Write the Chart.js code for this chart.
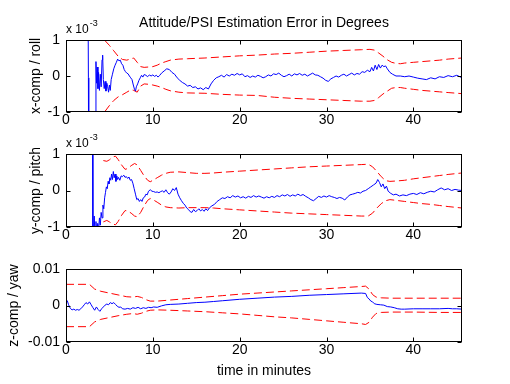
<!DOCTYPE html>
<html>
<head>
<meta charset="utf-8">
<script src="https://cdn.jsdelivr.net/npm/chart.js@4"></script>
<style>
  body { margin: 0; background: #fff; }
  #fig { position: relative; width: 510px; height: 384px; background: #fff; }
  #fig canvas { position: absolute; left: 0; }
</style>
</head>
<body>
<div id="fig">
  <canvas id="roll" width="510" height="130" style="top:0px"></canvas>
  <canvas id="pitch" width="510" height="115" style="top:130px"></canvas>
  <canvas id="yaw" width="510" height="139" style="top:245px"></canvas>
</div>
<script>
// time axis in minutes, roll/pitch in units of 1e-3 degrees, yaw in degrees
const tRoll = [
  2.50,2.58,2.62,3.40,3.45,3.52,3.60,3.68,3.75,3.85,
  3.95,4.05,4.15,4.22,4.30,4.40,4.50,4.60,4.70,4.80,
  4.90,5.00,5.10,5.20,5.35,5.50,5.65,5.80,5.95,6.10,
  6.25,6.40,6.55,6.70,6.85,7.00,7.15,7.30,7.45,7.60,
  7.75,7.90,8.00,8.10,8.25,8.40,8.55,8.70,8.85,9.00,
  9.20,9.40,9.60,9.80,10.0,10.2,10.4,10.6,10.8,11.0,
  11.3,11.6,11.9,12.2,12.5,12.8,13.1,13.4,13.7,14.0,
  14.3,14.6,14.9,15.2,15.5,15.8,16.1,16.4,16.7,17.0,
  17.3,17.6,17.9,18.2,18.5,18.8,19.1,19.4,19.7,20.0,
  20.3,20.6,20.9,21.2,21.5,21.8,22.1,22.4,22.7,23.0,
  23.3,23.6,23.9,24.2,24.5,24.8,25.1,25.4,25.7,26.0,
  26.3,26.6,26.9,27.2,27.5,27.8,28.1,28.4,28.7,29.0,
  29.3,29.6,29.9,30.2,30.5,30.8,31.1,31.4,31.7,32.0,
  32.3,32.6,32.9,33.2,33.5,33.8,34.1,34.4,34.7,35.0,
  35.2,35.4,35.6,35.8,36.0,36.2,36.4,36.6,36.8,37.0,
  37.3,37.6,38.0,38.5,39.0,39.5,40.0,40.5,41.0,41.5,
  42.0,42.5,43.0,43.5,44.0,44.5,45.0,45.6
];
const roll = [
  4.0,-0.05,-4.0,-4.0,0.40,-0.20,0.25,-0.35,0.10,-0.40,
  0.05,-0.30,0.45,0.58,-0.10,-0.35,-0.15,-0.42,-0.20,-0.30,
  -0.45,-0.25,-0.40,-0.10,0.05,0.20,0.30,0.38,0.47,0.42,
  0.44,0.34,0.30,0.18,0.12,0.08,0.06,0.00,-0.05,-0.10,
  -0.25,-0.38,-0.42,-0.30,-0.22,-0.12,-0.05,0.02,-0.03,0.04,
  0.02,-0.02,0.03,0.00,0.03,-0.01,0.02,-0.03,0.02,0.08,
  0.14,0.20,0.18,0.10,0.05,-0.05,-0.12,-0.18,-0.22,-0.28,
  -0.26,-0.32,-0.30,-0.36,-0.33,-0.38,-0.32,-0.36,-0.22,-0.12,
  -0.05,-0.02,0.02,-0.03,0.04,0.00,0.05,0.02,0.07,0.03,
  0.06,-0.02,0.01,-0.04,0.00,-0.03,0.02,-0.01,-0.05,-0.02,
  0.03,0.00,0.06,0.04,0.08,0.02,-0.02,0.01,0.05,0.00,
  0.06,0.03,0.07,0.02,0.05,0.00,0.04,0.08,0.03,0.02,
  -0.02,-0.06,-0.12,-0.15,-0.08,-0.04,0.00,-0.03,0.02,0.05,
  0.00,0.04,0.08,0.03,0.07,0.05,0.12,0.10,0.16,0.12,
  0.24,0.14,0.30,0.18,0.32,0.22,0.30,0.26,0.28,0.20,
  0.10,0.05,0.00,0.00,-0.02,0.00,-0.03,-0.06,-0.08,-0.10,
  -0.05,-0.08,-0.02,-0.04,0.01,-0.02,0.02,-0.05
];
const tRollBound = [
  4.5,5.0,5.5,6.0,6.5,7.0,7.5,7.8,8.2,8.6,
  9.0,9.5,10,10.5,11,11.5,12,13,14,16,
  18,20,22,24,26,28,30,32,34,35,
  35.5,36,36.5,37,37.5,38,38.5,39,40,41,
  42,43,44,45.6
];
const rollUpper = [
  0.98,0.85,0.70,0.55,0.46,0.44,0.48,0.50,0.38,0.26,
  0.24,0.25,0.26,0.30,0.36,0.40,0.44,0.47,0.48,0.50,
  0.53,0.56,0.58,0.61,0.63,0.66,0.69,0.71,0.73,0.74,
  0.72,0.64,0.55,0.45,0.38,0.35,0.34,0.36,0.38,0.40,
  0.42,0.44,0.47,0.50
];
const rollLower = [
  -0.98,-0.82,-0.68,-0.58,-0.52,-0.45,-0.38,-0.40,-0.45,-0.28,
  -0.22,-0.23,-0.25,-0.28,-0.32,-0.37,-0.41,-0.45,-0.47,-0.48,
  -0.51,-0.53,-0.54,-0.59,-0.62,-0.64,-0.66,-0.68,-0.70,-0.70,
  -0.68,-0.60,-0.50,-0.42,-0.34,-0.32,-0.32,-0.34,-0.37,-0.40,
  -0.42,-0.44,-0.46,-0.49
];

const tPitch = [
  3.00,3.10,3.25,3.35,3.45,3.55,3.65,3.75,3.85,3.95,
  4.05,4.15,4.25,4.35,4.45,4.55,4.65,4.75,4.85,4.95,
  5.05,5.15,5.25,5.35,5.45,5.55,5.65,5.75,5.85,5.95,
  6.05,6.20,6.35,6.50,6.65,6.80,6.95,7.10,7.25,7.40,
  7.55,7.70,7.85,8.00,8.15,8.30,8.45,8.60,8.75,8.90,
  9.05,9.20,9.35,9.50,9.70,9.90,10.1,10.3,10.5,10.7,
  10.9,11.1,11.3,11.5,11.7,11.9,12.1,12.3,12.5,12.7,
  12.9,13.1,13.3,13.5,13.7,13.9,14.1,14.3,14.5,14.7,
  14.9,15.1,15.3,15.5,15.7,15.9,16.1,16.3,16.5,16.8,
  17.1,17.4,17.7,18.0,18.3,18.6,18.9,19.2,19.5,19.8,
  20.1,20.4,20.7,21.0,21.3,21.6,21.9,22.2,22.5,22.8,
  23.1,23.4,23.7,24.0,24.3,24.6,24.9,25.2,25.5,25.8,
  26.1,26.4,26.7,27.0,27.3,27.6,27.9,28.2,28.5,28.8,
  29.1,29.4,29.7,30.0,30.3,30.6,30.9,31.2,31.5,31.8,
  32.1,32.4,32.7,33.0,33.3,33.6,33.9,34.2,34.5,34.8,
  35.1,35.4,35.7,35.9,36.1,36.3,36.5,36.7,36.9,37.1,
  37.4,37.7,38.0,38.4,38.8,39.2,39.6,40.0,40.4,40.8,
  41.2,41.6,42.0,42.4,42.8,43.2,43.6,44.0,44.4,44.8,
  45.2,45.6
];
const pitch = [
  4.0,-1.5,-0.70,-1.30,-0.85,-1.20,-0.90,-1.10,-0.75,-0.95,
  -0.60,-0.75,-0.40,-0.50,-0.20,-0.05,0.10,0.05,0.25,0.18,
  0.35,0.28,0.45,0.30,0.52,0.35,0.45,0.25,0.40,0.30,
  0.36,0.28,0.40,0.38,0.42,0.36,0.38,0.33,0.37,0.28,
  0.30,0.20,0.05,-0.10,-0.25,-0.22,-0.30,-0.25,-0.30,-0.20,
  -0.18,-0.10,-0.12,-0.02,0.02,-0.02,-0.03,-0.05,-0.04,-0.06,
  -0.03,-0.01,-0.05,0.02,-0.06,-0.10,-0.04,0.05,0.00,0.08,
  -0.10,-0.20,-0.28,-0.35,-0.40,-0.48,-0.52,-0.58,-0.60,-0.52,
  -0.58,-0.55,-0.50,-0.56,-0.52,-0.57,-0.50,-0.55,-0.48,-0.42,
  -0.38,-0.30,-0.25,-0.20,-0.22,-0.17,-0.20,-0.14,-0.18,-0.15,
  -0.20,-0.17,-0.21,-0.16,-0.19,-0.14,-0.18,-0.15,-0.18,-0.21,
  -0.17,-0.20,-0.16,-0.19,-0.14,-0.17,-0.12,-0.15,-0.11,-0.16,
  -0.12,-0.15,-0.10,-0.14,-0.11,-0.16,-0.20,-0.25,-0.28,-0.22,
  -0.16,-0.19,-0.15,-0.18,-0.14,-0.17,-0.19,-0.22,-0.19,-0.21,
  -0.26,-0.18,-0.12,-0.10,-0.08,-0.05,-0.07,-0.02,0.00,0.05,
  0.10,0.15,0.20,0.30,0.22,0.10,0.18,0.05,0.12,-0.02,
  -0.08,-0.12,-0.10,-0.15,-0.12,-0.14,-0.10,-0.08,-0.11,-0.06,
  -0.09,-0.05,-0.02,-0.04,0.02,0.07,0.02,0.05,0.00,0.03,
  0.01,0.00
];
const tPitchBound = [
  4.3,4.7,5.0,5.4,5.7,6.0,6.4,6.8,7.1,7.5,
  7.9,8.2,8.6,9.0,9.4,9.7,10,10.5,11,11.5,
  12,13,14,15,16,17,18,20,22,24,
  26,28,30,32,34,34.8,35.3,35.8,36.3,36.8,
  37.3,38,39,40,41,42,43,44,45.6
];
const pitchUpper = [
  0.82,0.80,0.84,0.92,0.94,0.85,0.70,0.58,0.60,0.68,
  0.74,0.70,0.55,0.40,0.28,0.24,0.28,0.35,0.42,0.47,
  0.50,0.51,0.49,0.47,0.47,0.48,0.50,0.53,0.56,0.59,
  0.62,0.65,0.67,0.69,0.71,0.72,0.65,0.52,0.38,0.27,
  0.25,0.26,0.28,0.32,0.35,0.38,0.41,0.44,0.48
];
const pitchLower = [
  -0.86,-0.82,-0.86,-0.92,-0.94,-0.85,-0.68,-0.55,-0.56,-0.62,
  -0.70,-0.72,-0.60,-0.42,-0.27,-0.22,-0.25,-0.32,-0.40,-0.45,
  -0.47,-0.48,-0.47,-0.47,-0.47,-0.48,-0.50,-0.53,-0.56,-0.59,
  -0.62,-0.64,-0.66,-0.68,-0.70,-0.70,-0.62,-0.48,-0.36,-0.28,
  -0.25,-0.27,-0.30,-0.33,-0.36,-0.38,-0.41,-0.44,-0.48
];

const tYaw = [
  0.0,0.15,0.3,0.5,0.7,0.9,1.1,1.3,1.5,1.7,
  1.9,2.1,2.3,2.5,2.7,2.9,3.1,3.3,3.5,3.7,
  3.9,4.1,4.3,4.5,4.7,4.9,5.1,5.3,5.5,5.7,
  5.9,6.1,6.3,6.5,6.8,7.1,7.4,7.7,8.0,8.3,
  8.6,8.9,9.2,9.5,9.8,10.1,10.5,11.0,11.5,12.0,
  13.0,14.0,15.0,16.0,17.0,18.0,19.0,20.0,22.0,24.0,
  26.0,28.0,30.0,32.0,34.0,34.5,34.7,34.9,35.1,35.3,
  35.5,35.8,36.2,36.6,37.0,37.4,37.8,38.2,38.6,39.0,
  40.0,41.0,42.0,43.0,44.0,44.5,45.0,45.6
];
const yaw = [
  0.0008,0.0013,0.0002,-0.0008,-0.0012,-0.0010,-0.0013,-0.0011,-0.0013,-0.0009,
  -0.0004,0.0002,0.0008,0.0004,0.0010,0.0002,-0.0006,-0.0013,-0.0004,-0.0011,
  -0.0016,-0.0009,-0.0004,0.0001,0.0004,0.0002,0.0008,0.0005,0.0008,0.0003,
  -0.0002,-0.0005,-0.0004,-0.0009,-0.0010,-0.0008,-0.0010,-0.0006,-0.0008,-0.0005,
  -0.0009,-0.0006,-0.0008,-0.0005,-0.0006,-0.0004,-0.0005,-0.0001,0.0002,0.0003,
  0.0004,0.0006,0.0008,0.0009,0.0011,0.0013,0.0015,0.0017,0.0020,0.0023,
  0.0025,0.0028,0.0030,0.0032,0.0034,0.0033,0.0022,0.0018,0.0012,0.0010,
  0.0005,0.0003,0.0002,0.0001,-0.0003,-0.0004,-0.0006,-0.0009,-0.0010,-0.0010,
  -0.0009,-0.0009,-0.0009,-0.0009,-0.0008,-0.0009,-0.0009,-0.0010
];
const tYawBound = [
  0,2.7,3.3,4.0,5.0,6.0,7.0,7.7,8.2,8.7,
  9.2,9.7,10.5,12,14,16,18,20,22,24,
  26,28,30,32,34,34.5,34.9,35.3,35.7,36.3,
  37.5,40,43,45.6
];
const yawUpper = [
  0.0058,0.0058,0.0045,0.0039,0.0034,0.0029,0.0024,0.0023,0.0025,0.0022,
  0.0016,0.0012,0.0012,0.0015,0.0019,0.0023,0.0027,0.0031,0.0034,0.0037,
  0.0040,0.0043,0.0046,0.0049,0.0052,0.0053,0.0045,0.0030,0.0023,0.0021,
  0.0020,0.0020,0.0020,0.0020
];
const yawLower = [
  -0.0058,-0.0058,-0.0045,-0.0038,-0.0033,-0.0028,-0.0024,-0.0022,-0.0024,-0.0021,
  -0.0016,-0.0013,-0.0012,-0.0013,-0.0015,-0.0017,-0.0020,-0.0023,-0.0027,-0.0031,
  -0.0034,-0.0038,-0.0042,-0.0046,-0.0050,-0.0052,-0.0046,-0.0032,-0.0022,-0.0019,
  -0.0018,-0.0018,-0.0019,-0.0019
];

Chart.defaults.font.family = "'Liberation Sans', Arial, sans-serif";
Chart.defaults.font.size = 14;
Chart.defaults.color = "#000";

function pts(xs, ys) {
    return xs.map((x, i) => ({ x: x, y: ys[i] }));
}

// matlab style box with inward ticks, plus the "x 10^-3" multiplier
const boxPlugin = {
    id: "box",
    afterDraw(chart, args, opts) {
        const ctx = chart.ctx;
        const a = chart.chartArea;
        const L = Math.round(a.left) + 0.5, R = Math.round(a.right) - 0.5;
        const T = Math.round(a.top) + 0.5, B = Math.round(a.bottom) - 0.5;
        ctx.save();
        ctx.strokeStyle = "#000";
        ctx.lineWidth = 1;
        ctx.strokeRect(L, T, R - L, B - T);
        ctx.beginPath();
        chart.scales.x.ticks.forEach(t => {
            const px = Math.round(chart.scales.x.getPixelForValue(t.value)) + 0.5;
            ctx.moveTo(px, B); ctx.lineTo(px, B - 4);
            ctx.moveTo(px, T); ctx.lineTo(px, T + 4);
        });
        chart.scales.y.ticks.forEach(t => {
            const py = Math.round(chart.scales.y.getPixelForValue(t.value)) + 0.5;
            ctx.moveTo(L, py); ctx.lineTo(L + 4, py);
            ctx.moveTo(R, py); ctx.lineTo(R - 4, py);
        });
        ctx.stroke();
        if (opts.exponent) {
            ctx.fillStyle = "#000";
            ctx.textBaseline = "alphabetic";
            ctx.font = "12px 'Liberation Sans', Arial, sans-serif";
            ctx.fillText("x 10", a.left, a.top - 7);
            const w = ctx.measureText("x 10").width;
            ctx.font = "9px 'Liberation Sans', Arial, sans-serif";
            ctx.fillText(opts.exponent, a.left + w + 1, a.top - 14);
        }
        ctx.restore();
    }
};

function makeChart(id, series, yAxis, xTitle, extra) {
    const ctx = document.getElementById(id).getContext("2d");
    return new Chart(ctx, {
        type: "line",
        data: {
            datasets: [
                { data: pts(series[0], series[1]), borderColor: "#0000ff", borderWidth: 1, pointRadius: 0 },
                { data: pts(series[2], series[3]), borderColor: "#ff0000", borderWidth: 1, pointRadius: 0, borderDash: [8, 4] },
                { data: pts(series[2], series[4]), borderColor: "#ff0000", borderWidth: 1, pointRadius: 0, borderDash: [8, 4] }
            ]
        },
        options: {
            responsive: false,
            animation: false,
            events: [],
            layout: { padding: { left: 0, right: 48, top: extra.top, bottom: 0 } },
            plugins: {
                legend: { display: false },
                tooltip: { enabled: false },
                title: extra.title,
                box: { exponent: extra.exponent }
            },
            scales: {
                x: {
                    type: "linear",
                    min: 0,
                    max: 45.6,
                    grid: { display: false, drawTicks: false },
                    border: { display: false },
                    ticks: { stepSize: 10, includeBounds: false, padding: 0, maxRotation: 0 },
                    title: xTitle,
                    afterFit(scale) { scale.height = extra.xHeight; }
                },
                y: {
                    min: yAxis.min,
                    max: yAxis.max,
                    grid: { display: false, drawTicks: false },
                    border: { display: false },
                    ticks: { stepSize: yAxis.step, padding: 6 },
                    title: { display: true, text: yAxis.label, padding: { top: yAxis.titleGap, bottom: 0 } },
                    afterFit(scale) { scale.width = 66; }
                }
            }
        },
        plugins: [boxPlugin]
    });
}

makeChart("roll", [tRoll, roll, tRollBound, rollUpper, rollLower],
    { min: -1, max: 1, step: 1, label: "x-comp / roll", titleGap: 28 },
    { display: false },
    {
        top: 0, xHeight: 18, exponent: "-3",
        title: {
            display: true, fullSize: false,
            text: "Attitude/PSI Estimation Error in Degrees",
            font: { size: 14, weight: "normal" }, color: "#000",
            padding: { top: 14.6, bottom: 8.6 }
        }
    });

makeChart("pitch", [tPitch, pitch, tPitchBound, pitchUpper, pitchLower],
    { min: -1, max: 1, step: 1, label: "y-comp / pitch", titleGap: 28 },
    { display: false },
    { top: 24, xHeight: 18, exponent: "-3", title: { display: false } });

makeChart("yaw", [tYaw, yaw, tYawBound, yawUpper, yawLower],
    { min: -0.01, max: 0.01, step: 0.01, label: "z-comp / yaw", titleGap: 5.6 },
    { display: true, text: "time in minutes", padding: { top: 0, bottom: 4 } },
    { top: 24, xHeight: 42, exponent: null, title: { display: false } });
</script>
</body>
</html>
